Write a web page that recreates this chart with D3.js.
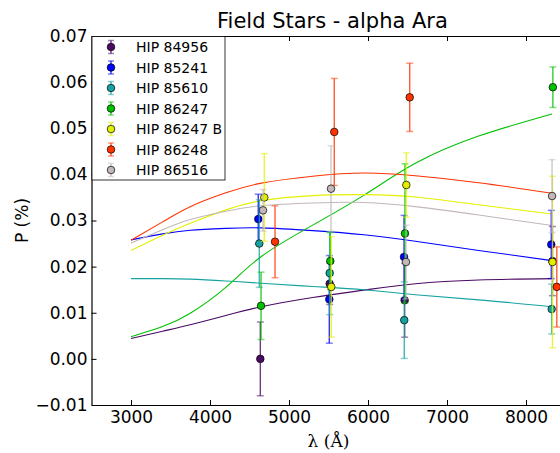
<!DOCTYPE html>
<html>
<head>
<meta charset="utf-8">
<script src="https://cdn.jsdelivr.net/npm/d3@7"></script>
<style>
  body { margin: 0; background: #fff; }
  svg { display: block; font-family: "DejaVu Sans", sans-serif; }
</style>
</head>
<body>
<svg id="chart" width="560" height="453"></svg>
<script>
// star names and colours (legend order)
const stars = ["HIP 84956", "HIP 85241", "HIP 85610", "HIP 86247", "HIP 86247 B", "HIP 86248", "HIP 86516"];
const colors = ["#4b0a64", "#0000ff", "#17a2a2", "#00c000", "#e2f000", "#ff3300", "#c2b8b8"];

// observed polarization, one row per star: wavelength (A), P (%), error
const obsWave = [
  [4637, 5515, 6464, 8335],
  [4611, 5510, 6456, 8320],
  [4624, 5515, 6459, 8325],
  [4646, 5523, 6468, 8340],
  [4687, 5535, 6485, 8335],
  [4823, 5573, 6528, 8390],
  [4671, 5532, 6481, 8330]
];
const obsP = [
  [0.0000, 0.0163, 0.0127, 0.0212],
  [0.0303, 0.0129, 0.0221, 0.0248],
  [0.0250, 0.0186, 0.0084, 0.0108],
  [0.0115, 0.0212, 0.0272, 0.0589],
  [0.0350, 0.0156, 0.0377, 0.0210],
  [0.0254, 0.0492, 0.0567, 0.0156],
  [0.0322, 0.0369, 0.0210, 0.0353]
];
const obsErr = [
  [0.0080, 0.0045, 0.0080, 0.0075],
  [0.0054, 0.0095, 0.0090, 0.0074],
  [0.0095, 0.0090, 0.0083, 0.0054],
  [0.0073, 0.0062, 0.0151, 0.0044],
  [0.0095, 0.0109, 0.0070, 0.0186],
  [0.0078, 0.0116, 0.0074, 0.0087],
  [0.0045, 0.0093, 0.0080, 0.0079]
];

// fitted curves at these wavelengths
const fitWave = [3000, 3400, 3750, 4200, 4650, 5300, 5950, 6600, 7400, 8330];
const fitP = [
  [0.0044, 0.0060, 0.0074, 0.0094, 0.0113, 0.0133, 0.0149, 0.0163, 0.0171, 0.0174],
  [0.0258, 0.0271, 0.0279, 0.0283, 0.0284, 0.0278, 0.0269, 0.0255, 0.0235, 0.0213],
  [0.0174, 0.0174, 0.0173, 0.0169, 0.0164, 0.0157, 0.0150, 0.0139, 0.0128, 0.0113],
  [0.0048, 0.0070, 0.0099, 0.0155, 0.0222, 0.0290, 0.0355, 0.0424, 0.0483, 0.0531],
  [0.0235, 0.0268, 0.0294, 0.0323, 0.0343, 0.0354, 0.0356, 0.0351, 0.0334, 0.0314],
  [0.0257, 0.0297, 0.0330, 0.0360, 0.0381, 0.0396, 0.0403, 0.0397, 0.0382, 0.0359],
  [0.0251, 0.0280, 0.0302, 0.0320, 0.0332, 0.0338, 0.0339, 0.0330, 0.0312, 0.0289]
];

const xTicks = [3000, 4000, 5000, 6000, 7000, 8000];
const yTicks = [-0.01, 0.00, 0.01, 0.02, 0.03, 0.04, 0.05, 0.06, 0.07];

const svg = d3.select("#chart");
const box = {left: 91.5, right: 573.4, top: 36, bottom: 405};

const x = d3.scaleLinear().domain([2500, 8600]).range([box.left, box.right]);
const y = d3.scaleLinear().domain([-0.01, 0.07]).range([box.bottom, box.top]);

// fitted curves
const line = d3.line()
  .x(d => x(d[0]))
  .y(d => y(d[1]))
  .curve(d3.curveNatural);

svg.append("g").selectAll("path")
  .data(fitP)
  .join("path")
  .attr("d", row => line(row.map((v, i) => [fitWave[i], v])))
  .attr("fill", "none")
  .attr("stroke", (d, i) => colors[i])
  .attr("stroke-width", 1.1);

// error bars + markers, star by star
const capW = 3.5;
stars.forEach(function(name, s) {
  const pts = obsWave[s].map((w, i) => ({w: w, p: obsP[s][i], e: obsErr[s][i]}));
  const g = svg.append("g");
  g.selectAll("line.bar")
    .data(pts)
    .join("line")
    .attr("class", "bar")
    .attr("x1", d => x(d.w)).attr("x2", d => x(d.w))
    .attr("y1", d => y(d.p - d.e)).attr("y2", d => y(d.p + d.e))
    .attr("stroke", colors[s])
    .attr("stroke-opacity", 0.8)
    .attr("stroke-width", 1.4);
  [-1, 1].forEach(function(sign) {
    g.selectAll("line.cap" + (sign > 0 ? "up" : "dn"))
      .data(pts)
      .join("line")
      .attr("class", "cap" + (sign > 0 ? "up" : "dn"))
      .attr("x1", d => x(d.w) - capW).attr("x2", d => x(d.w) + capW)
      .attr("y1", d => y(d.p + sign * d.e)).attr("y2", d => y(d.p + sign * d.e))
      .attr("stroke", colors[s])
      .attr("stroke-opacity", 0.5)
      .attr("stroke-width", 1.5);
  });
  g.selectAll("circle")
    .data(pts)
    .join("circle")
    .attr("cx", d => x(d.w))
    .attr("cy", d => y(d.p))
    .attr("r", 3.8)
    .attr("fill", colors[s])
    .attr("stroke", "#000")
    .attr("stroke-width", 0.7);
});

// axes (ticks inside, matplotlib style)
const fontSize = "17px";
const xAxis = svg.append("g")
  .attr("transform", "translate(0," + box.bottom + ")")
  .call(d3.axisBottom(x).tickValues(xTicks).tickSize(-5).tickSizeOuter(0).tickPadding(6).tickFormat(d3.format("d")));
const xTop = svg.append("g")
  .attr("transform", "translate(0," + box.top + ")")
  .call(d3.axisTop(x).tickValues(xTicks).tickSize(-5).tickSizeOuter(0).tickFormat(""));
const yAxis = svg.append("g")
  .attr("transform", "translate(" + box.left + ",0)")
  .call(d3.axisLeft(y).tickValues(yTicks).tickSize(-5).tickSizeOuter(0).tickPadding(4).tickFormat(d3.format(".2f")));

[xAxis, xTop, yAxis].forEach(function(a) {
  a.select(".domain").attr("stroke", "#000").attr("stroke-width", 1.2);
  a.selectAll(".tick line").attr("stroke", "#000");
  a.selectAll("text").attr("fill", "#000").style("font-size", fontSize).style("font-family", "DejaVu Sans");
});

// legend
const lg = svg.append("g");
lg.append("rect")
  .attr("x", 92).attr("y", 36.5)
  .attr("width", 133).attr("height", 143.5)
  .attr("fill", "#fff")
  .attr("stroke", "#000")
  .attr("stroke-width", 0.8);
const items = lg.selectAll("g.item")
  .data(stars)
  .join("g")
  .attr("class", "item")
  .attr("transform", (d, i) => "translate(111," + (47 + i * 20.5) + ")");
items.append("line")
  .attr("y1", -6.5).attr("y2", 6.5)
  .attr("stroke", (d, i) => colors[i]).attr("stroke-opacity", 0.8).attr("stroke-width", 1.4);
[-6.5, 6.5].forEach(function(cy) {
  items.append("line")
    .attr("x1", -3).attr("x2", 3).attr("y1", cy).attr("y2", cy)
    .attr("stroke", (d, i) => colors[i]).attr("stroke-opacity", 0.5).attr("stroke-width", 1.5);
});
items.append("circle")
  .attr("r", 3.8)
  .attr("fill", (d, i) => colors[i])
  .attr("stroke", "#000").attr("stroke-width", 0.7);
items.append("text")
  .attr("x", 25).attr("dy", "0.36em")
  .style("font-size", "14px")
  .text(d => d);

// titles
svg.append("text")
  .attr("x", (box.left + box.right) / 2).attr("y", 28)
  .attr("text-anchor", "middle")
  .style("font-size", "21px")
  .text("Field Stars - alpha Ara");

svg.append("text")
  .attr("transform", "translate(28," + (box.top + box.bottom) / 2 + ") rotate(-90)")
  .attr("text-anchor", "middle")
  .style("font-size", "17px")
  .text("P (%)");

svg.append("text")
  .attr("x", (box.left + box.right) / 2 - 4).attr("y", 447)
  .attr("text-anchor", "middle")
  .style("font-family", "DejaVu Serif")
  .style("font-size", "17px")
  .text("λ (Å)");
</script>
</body>
</html>
